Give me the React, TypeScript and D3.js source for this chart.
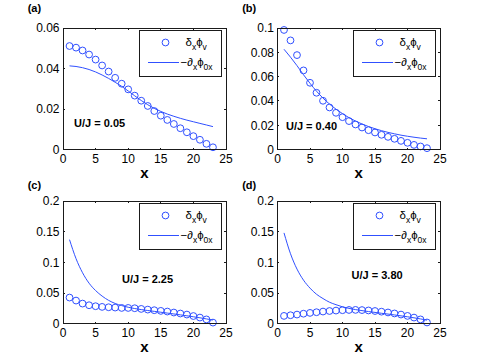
import React from 'react';
import * as d3 from 'd3';

// lattice sites along x
const sites = [1, 2, 3, 4, 5, 6, 7, 8, 9, 10, 11, 12, 13, 14, 15, 16, 17, 18, 19, 20, 21, 22, 23];
const xTicks = [0, 5, 10, 15, 20, 25];

// (a) U/J = 0.05
const dotsA = [0.0511, 0.0503, 0.0489, 0.0469, 0.0444, 0.0415, 0.0385, 0.0354, 0.0325, 0.0297, 0.0266, 0.0241, 0.0215, 0.019, 0.0167, 0.0146, 0.0126, 0.0105, 0.0085, 0.0066, 0.0048, 0.0028, 0.0011];
const curveA = [0.0413, 0.041, 0.0404, 0.0395, 0.0383, 0.0368, 0.0351, 0.0332, 0.0312, 0.0289, 0.0265, 0.0242, 0.0221, 0.0203, 0.0188, 0.0175, 0.0164, 0.0154, 0.0145, 0.0137, 0.0129, 0.0121, 0.0113];
const yTicksA = [0, 0.02, 0.04, 0.06];

// (b) U/J = 0.40
const dotsB = [0.0984, 0.0898, 0.0777, 0.0651, 0.0549, 0.0467, 0.0401, 0.0346, 0.0302, 0.0266, 0.0234, 0.0206, 0.0181, 0.0159, 0.014, 0.0121, 0.0104, 0.0088, 0.0071, 0.0055, 0.0038, 0.0025, 0.0011];
const curveB = [0.0825, 0.076, 0.069, 0.0615, 0.0545, 0.048, 0.0423, 0.0374, 0.0332, 0.0295, 0.0262, 0.0234, 0.021, 0.0189, 0.0171, 0.0155, 0.0141, 0.0129, 0.0118, 0.0109, 0.0101, 0.0094, 0.0088];
const yTicksB = [0, 0.02, 0.04, 0.06, 0.08, 0.1];

// (c) U/J = 2.25
const dotsC = [0.0426, 0.0377, 0.0328, 0.0301, 0.0285, 0.0274, 0.0268, 0.0263, 0.0257, 0.0257, 0.0252, 0.0241, 0.023, 0.022, 0.0209, 0.0198, 0.0182, 0.0166, 0.0149, 0.0125, 0.01, 0.007, 0.0018];
const curveC = [0.137, 0.106, 0.083, 0.066, 0.054, 0.045, 0.038, 0.033, 0.0295, 0.0268, 0.0247, 0.023, 0.0215, 0.0201, 0.0187, 0.0173, 0.0159, 0.0144, 0.0129, 0.0113, 0.0096, 0.0078, 0.006];

// (d) U/J = 3.80
const dotsD = [0.0127, 0.0138, 0.0149, 0.0163, 0.0176, 0.0187, 0.0198, 0.0207, 0.0214, 0.022, 0.0224, 0.0225, 0.0222, 0.0216, 0.0207, 0.0196, 0.0183, 0.0167, 0.0149, 0.0127, 0.01, 0.007, 0.002];
const curveD = [0.148, 0.114, 0.089, 0.071, 0.058, 0.048, 0.041, 0.035, 0.031, 0.0275, 0.025, 0.023, 0.0213, 0.0198, 0.0184, 0.017, 0.0157, 0.0143, 0.0128, 0.0113, 0.0096, 0.0078, 0.0058];
const yTicksCD = [0, 0.05, 0.1, 0.15, 0.2];

const panelTags = ['(a)', '(b)', '(c)', '(d)'];
const ratioLabels = ['U/J = 0.05', 'U/J = 0.40', 'U/J = 2.25', 'U/J = 3.80'];
const ratioAnchors = [[1.7, 0.0132], [1.3, 0.0193], [9.05, 0.0727], [11.4, 0.079]];

const BLUE = '#3050ff';
const INK = '#1a1a1a';
const FONT = '"Liberation Sans", Arial, Helvetica, sans-serif';

const frames = [
  { left: 63, right: 226, top: 28, bottom: 149.5, tagY: 12 },
  { left: 277.5, right: 440, top: 28, bottom: 149.5, tagY: 12 },
  { left: 63, right: 226, top: 201, bottom: 323.7, tagY: 189 },
  { left: 277.5, right: 440, top: 201, bottom: 323.7, tagY: 189 },
];

const fmt = (d: number) => String(+d.toFixed(3));

function Legend({ x0, y0 }: { x0: number; y0: number }) {
  const w = 82, h = 46;
  return (
    <g transform={`translate(${x0},${y0})`}>
      <rect x={0} y={0} width={w} height={h} fill="#fff" stroke={INK} strokeWidth={1} shapeRendering="crispEdges" />
      <circle cx={26} cy={12.5} r={3.4} fill="none" stroke={BLUE} strokeWidth={1} />
      <text x={46} y={16} fontSize={11.5} fill="#000">
        δ<tspan dy={3.5} fontSize={8.5}>x</tspan><tspan dy={-3.5}>ϕ</tspan><tspan dy={3.5} fontSize={8.5}>v</tspan>
      </text>
      <line x1={8.5} x2={39.5} y1={32.5} y2={32.5} stroke={BLUE} strokeWidth={1} />
      <text x={41} y={36} fontSize={11.5} fill="#000">
        −∂<tspan dy={3.5} fontSize={8.5}>x</tspan><tspan dy={-3.5}>ϕ</tspan><tspan dy={3.5} fontSize={8.5}>0x</tspan>
      </text>
    </g>
  );
}

function Panel({ idx, yMax, yTicks, dots, curve }: { idx: number; yMax: number; yTicks: number[]; dots: number[]; curve: number[] }) {
  const f = frames[idx];
  const x = d3.scaleLinear().domain([0, 25]).range([f.left, f.right]);
  const y = d3.scaleLinear().domain([0, yMax]).range([f.bottom, f.top]);
  const path = d3.line<number>()
    .x((_, i) => x(sites[i]))
    .y(d => y(d))
    .curve(d3.curveMonotoneX)(curve) || '';
  const tl = 1.8;
  const [ax, ay] = ratioAnchors[idx];

  return (
    <g fontFamily={FONT}>
      {/* data */}
      <path d={path} fill="none" stroke={BLUE} strokeWidth={1} />
      {dots.map((v, i) => (
        <circle key={i} cx={x(sites[i])} cy={y(v)} r={3.4} fill="none" stroke={BLUE} strokeWidth={1} />
      ))}

      {/* box + inward ticks on all sides */}
      <rect x={f.left} y={f.top} width={f.right - f.left} height={f.bottom - f.top} fill="none" stroke={INK} strokeWidth={1} shapeRendering="crispEdges" />
      <g stroke={INK} strokeWidth={1} shapeRendering="crispEdges">
        {xTicks.map(t => (
          <g key={'x' + t}>
            <line x1={x(t)} x2={x(t)} y1={f.bottom} y2={f.bottom - tl} />
            <line x1={x(t)} x2={x(t)} y1={f.top} y2={f.top + tl} />
          </g>
        ))}
        {yTicks.map(t => (
          <g key={'y' + t}>
            <line x1={f.left} x2={f.left + tl} y1={y(t)} y2={y(t)} />
            <line x1={f.right} x2={f.right - tl} y1={y(t)} y2={y(t)} />
          </g>
        ))}
      </g>
      {xTicks.map(t => (
        <text key={'xl' + t} x={x(t)} y={f.bottom + 13} fontSize={12} textAnchor="middle" fill="#000">{fmt(t)}</text>
      ))}
      {yTicks.map(t => (
        <text key={'yl' + t} x={f.left - 3.5} y={y(t)} dy="0.36em" fontSize={12} textAnchor="end" fill="#000">{fmt(t)}</text>
      ))}
      <text x={(f.left + f.right) / 2} y={f.bottom + 28.5} fontSize={15} fontWeight="bold" textAnchor="middle" fill="#000">x</text>
      <text x={f.left - 35.3} y={f.tagY} fontSize={11} fontWeight="bold" fill="#000">{panelTags[idx]}</text>
      <text x={x(ax)} y={y(ay)} dy="0.36em" fontSize={11} fontWeight="bold" fill="#000">{ratioLabels[idx]}</text>

      <Legend x0={f.right - 86.5} y0={f.top + 2} />
    </g>
  );
}

export default function App() {
  return (
    <svg width={485} height={364} style={{ position: 'absolute', left: 0, top: 0, background: '#fff' }}>
      <rect width={485} height={364} fill="#fff" />
      <Panel idx={0} yMax={0.06} yTicks={yTicksA} dots={dotsA} curve={curveA} />
      <Panel idx={1} yMax={0.1} yTicks={yTicksB} dots={dotsB} curve={curveB} />
      <Panel idx={2} yMax={0.2} yTicks={yTicksCD} dots={dotsC} curve={curveC} />
      <Panel idx={3} yMax={0.2} yTicks={yTicksCD} dots={dotsD} curve={curveD} />
    </svg>
  );
}
